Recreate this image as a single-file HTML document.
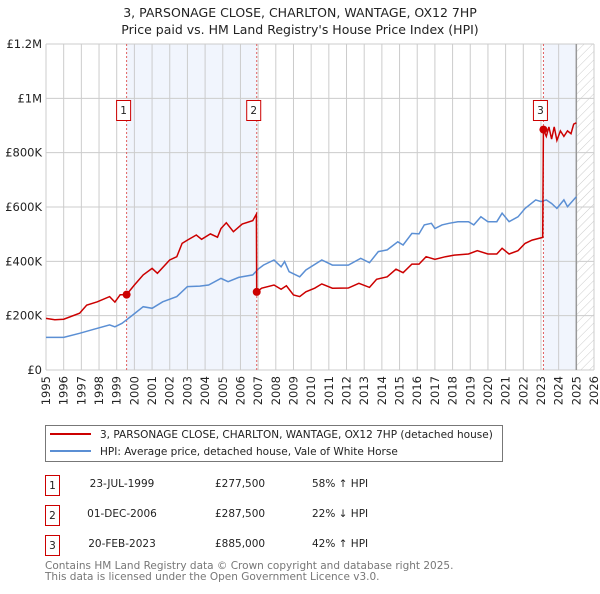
<!DOCTYPE html>
<html><head><meta charset="utf-8"><style>
body{margin:0;background:#fff;font-family:"DejaVu Sans","Liberation Sans",sans-serif;}
svg text{font-family:"DejaVu Sans","Liberation Sans",sans-serif;}
</style></head><body>
<svg id="c" width="600" height="590" xmlns="http://www.w3.org/2000/svg">
<defs><pattern id="hatch" width="6" height="6" patternUnits="userSpaceOnUse" patternTransform="rotate(45)"><line x1="0" y1="0" x2="0" y2="6" stroke="#ccc" stroke-width="1"/></pattern></defs>
<text x="300" y="17" text-anchor="middle" font-size="12.5" fill="#222">3, PARSONAGE CLOSE, CHARLTON, WANTAGE, OX12 7HP</text>
<text x="300" y="34" text-anchor="middle" font-size="12.5" fill="#222">Price paid vs. HM Land Registry's House Price Index (HPI)</text>
<g id="plot"></g>
<g>
<rect x="45.5" y="425.5" width="457" height="36" fill="#fff" stroke="#777"/>
<line x1="50" y1="434" x2="91" y2="434" stroke="#cc0000" stroke-width="2"/>
<text x="100" y="438" font-size="10.5" fill="#222">3, PARSONAGE CLOSE, CHARLTON, WANTAGE, OX12 7HP (detached house)</text>
<line x1="50" y1="451" x2="91" y2="451" stroke="#5b8fd4" stroke-width="2"/>
<text x="100" y="455" font-size="10.5" fill="#222">HPI: Average price, detached house, Vale of White Horse</text>
</g>
<g font-size="10.5" fill="#222">
<rect x="45.5" y="475.5" width="14" height="20" fill="#fff" stroke="#cc0000"/><text x="52.5" y="489" text-anchor="middle">1</text>
<text x="122" y="487" text-anchor="middle">23-JUL-1999</text><text x="215" y="487">£277,500</text><text x="312" y="487">58% ↑ HPI</text>
<rect x="45.5" y="505.5" width="14" height="20" fill="#fff" stroke="#cc0000"/><text x="52.5" y="519" text-anchor="middle">2</text>
<text x="122" y="517" text-anchor="middle">01-DEC-2006</text><text x="215" y="517">£287,500</text><text x="312" y="517">22% ↓ HPI</text>
<rect x="45.5" y="535.5" width="14" height="20" fill="#fff" stroke="#cc0000"/><text x="52.5" y="549" text-anchor="middle">3</text>
<text x="122" y="547" text-anchor="middle">20-FEB-2023</text><text x="215" y="547">£885,000</text><text x="312" y="547">42% ↑ HPI</text>
</g>
<text x="45" y="569" font-size="10.5" fill="#777">Contains HM Land Registry data © Crown copyright and database right 2025.</text>
<text x="45" y="580" font-size="10.5" fill="#777">This data is licensed under the Open Government Licence v3.0.</text>
</svg>
<script>
const years=[1995,1996,1997,1998,1999,2000,2001,2002,2003,2004,2005,2006,2007,2008,2009,2010,2011,2012,2013,2014,2015,2016,2017,2018,2019,2020,2021,2022,2023,2024,2025,2026];
const yTicks=[0,200000,400000,600000,800000,1000000,1200000];
const yTickLabels=["£0","£200K","£400K","£600K","£800K","£1M","£1.2M"];
const hpiT=[1995,1996,1996.9,1997.7,1998.6,1998.9,1999.3,1999.9,2000.5,2001,2001.6,2002.4,2003,2003.7,2004.2,2004.9,2005.3,2005.9,2006.7,2007,2007.3,2007.9,2008.3,2008.5,2008.75,2009.35,2009.7,2010.6,2011.2,2012.1,2012.8,2013.3,2013.8,2014.3,2014.9,2015.2,2015.7,2016.1,2016.4,2016.8,2017,2017.4,2017.8,2018.3,2018.9,2019.2,2019.6,2020,2020.5,2020.8,2021.2,2021.7,2022.1,2022.7,2023,2023.3,2023.6,2023.9,2024.3,2024.5,2025];
const hpiV=[120,120,135,150,166,159,172,202,233,227,251,270,307,309,313,337,325,341,350,371,386,405,380,399,362,343,368,405,386,386,411,395,436,442,472,460,503,501,534,540,521,534,540,546,546,534,564,546,546,577,546,564,595,626,620,626,613,595,626,601,638];
const ppT=[1995,1995.5,1996,1996.9,1997.3,1997.9,1998.6,1998.9,1999.2,1999.56,2000,2000.5,2001,2001.3,2002,2002.4,2002.7,2003,2003.5,2003.8,2004.3,2004.7,2004.9,2005.2,2005.6,2006.1,2006.7,2006.9,2006.92,2007.2,2007.9,2008.3,2008.6,2009,2009.35,2009.7,2010.2,2010.6,2011.2,2012.1,2012.7,2013.3,2013.7,2014.3,2014.8,2015.2,2015.7,2016.1,2016.5,2017,2017.6,2018.1,2018.9,2019.4,2020,2020.5,2020.8,2021.2,2021.7,2022.1,2022.5,2023.1,2023.14,2023.3,2023.45,2023.6,2023.75,2023.9,2024.1,2024.3,2024.5,2024.7,2024.85,2025];
const ppV=[190,185,187,209,239,251,270,250,277,277.5,313,350,374,356,405,417,466,478,497,481,501,489,521,542,509,537,550,574,287.5,301,313,297,310,276,270,288,301,317,301,302,319,304,334,343,371,358,390,390,417,407,417,423,427,439,427,427,448,427,439,466,478,488,885,860,895,850,895,845,880,860,880,870,905,910];
const saleT=[1999.56,2006.92,2023.14];
const saleV=[277500,287500,885000];
const saleLabels=["1","2","3"];
const X0=46,X1=594,Y0=370,Y1=44;
const xs=t=>X0+(t-1995)*(X1-X0)/31;
const ys=v=>Y0-v/1200000*(Y0-Y1);
const NS="http://www.w3.org/2000/svg";
const g=document.getElementById('plot');
function mk(tag,at,parent){const e=document.createElementNS(NS,tag);for(const k in at)e.setAttribute(k,at[k]);(parent||g).appendChild(e);return e;}
// shading
let r=mk('rect',{x:xs(saleT[0]),y:Y1,width:xs(saleT[1])-xs(saleT[0]),height:Y0-Y1,fill:'#eef3fc',opacity:0.8});


r=mk('rect',{x:xs(saleT[2]),y:Y1,width:xs(2025)-xs(saleT[2]),height:Y0-Y1,fill:'#eef3fc',opacity:0.8});


r=mk('rect',{x:xs(2025),y:Y1,width:X1-xs(2025),height:Y0-Y1,fill:'url(#hatch)'});


// grid
years.forEach(y=>{const l=mk('line',{x1:xs(y),x2:xs(y),y1:Y1,y2:Y0,stroke:'#ccc','stroke-width':1});


const t=mk('text',{x:0,y:0,'font-size':11.5,fill:'#222','text-anchor':'end',transform:`translate(${xs(y)+4},${Y0+6}) rotate(-90)`});t.textContent=y;

});
yTicks.forEach((v,i)=>{const l=mk('line',{x1:X0,x2:X1,y1:ys(v),y2:ys(v),stroke:'#ccc','stroke-width':1});


const t=mk('text',{x:X0-4,y:ys(v)+4,'font-size':11.5,fill:'#222','text-anchor':'end'});t.textContent=yTickLabels[i];

});
let l=mk('line',{x1:xs(2025),x2:xs(2025),y1:Y1,y2:Y0,stroke:'#999','stroke-width':1.5});


saleT.forEach(t=>{const d=mk('line',{x1:xs(t),x2:xs(t),y1:Y1,y2:Y0,stroke:'#e06060','stroke-width':1,'stroke-dasharray':'2,2'});

});
// series
const path=(T,V)=>T.map((t,i)=>(i?'L':'M')+xs(t).toFixed(1)+','+ys(V[i]*1000).toFixed(1)).join('');
let p=mk('path',{d:path(hpiT,hpiV),fill:'none',stroke:'#5b8fd4','stroke-width':1.5});


p=mk('path',{d:path(ppT,ppV),fill:'none',stroke:'#cc0000','stroke-width':1.5});


saleT.forEach((t,i)=>{const c=mk('circle',{cx:xs(t),cy:ys(saleV[i]),r:4,fill:'#cc0000'});


const b=mk('rect',{x:xs(t)-10,y:100.5,width:14,height:20,fill:'#fff',stroke:'#cc0000'});


const tx=mk('text',{x:xs(t)-3,y:114,'font-size':10.5,fill:'#222','text-anchor':'middle'});tx.textContent=saleLabels[i];

});
</script>
</body></html>
